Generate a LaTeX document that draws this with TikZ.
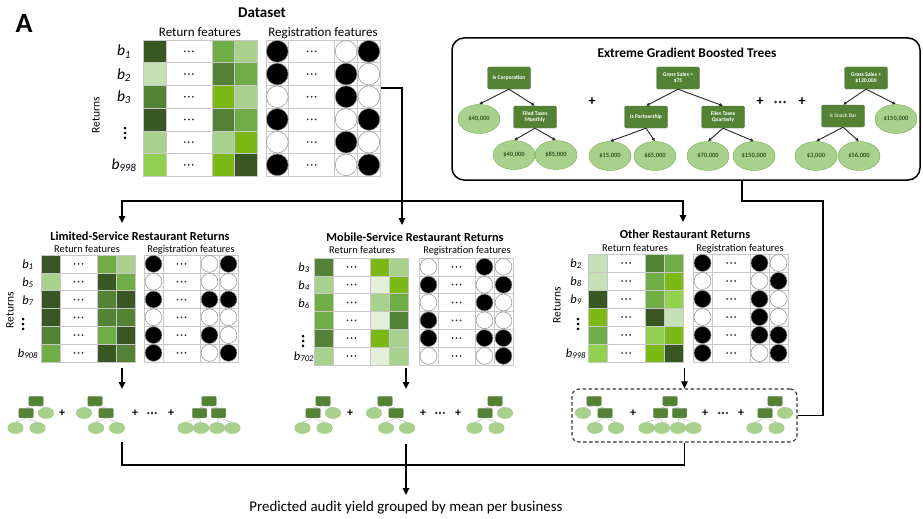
\documentclass[tikz,border=0pt]{standalone}
\usepackage{fontspec}
\setmainfont{Carlito}
\usetikzlibrary{arrows.meta,shapes.geometric}
\definecolor{G1}{RGB}{56,87,35}
\definecolor{G2}{RGB}{84,130,53}
\definecolor{G3}{RGB}{112,173,71}
\definecolor{G4}{RGB}{169,209,142}
\definecolor{G5}{RGB}{125,185,20}
\definecolor{G6}{RGB}{197,224,180}
\definecolor{G7}{RGB}{146,208,80}
\definecolor{G8}{RGB}{226,240,217}
\colorlet{K}{black}
\colorlet{W}{white}
\newcommand\fs[1]{\fontsize{#1}{#1}\selectfont}
\newcommand\mydotsH[4]{\foreach \k in {0,1,2}{\fill[black!80] ({#1-#3+#3*\k},{#2}) circle (#4pt);}}
\newcommand\mydotsV[2]{\foreach \k in {0,1,2}{\fill[black] ({#1},{#2-4.8+4.8*\k}) circle (1.5pt);}}
% #1 x0, #2 y0, #3 cell w, #4 cell h, #5 dots w, #6 gap, #7 colours, #8 circles
\newcommand\gtable[8]{%
  \pgfmathsetmacro\xA{#1}%
  \pgfmathsetmacro\xB{#1+#3}%
  \pgfmathsetmacro\xC{#1+#3+#5}%
  \pgfmathsetmacro\xD{#1+2*#3+#5}%
  \pgfmathsetmacro\xE{#1+3*#3+#5}%
  \pgfmathsetmacro\xF{#1+3*#3+#5+#6}%
  \pgfmathsetmacro\xG{\xF+#3}%
  \pgfmathsetmacro\xH{\xF+#3+#5}%
  \pgfmathsetmacro\xI{\xF+2*#3+#5}%
  \pgfmathsetmacro\xJ{\xF+3*#3+#5}%
  \pgfmathsetmacro\xdA{(\xB+\xC)/2}%
  \pgfmathsetmacro\xdB{(\xG+\xH)/2}%
  \pgfmathsetmacro\xcA{(\xF+\xG)/2}%
  \pgfmathsetmacro\xcB{(\xH+\xI)/2}%
  \pgfmathsetmacro\xcC{(\xI+\xJ)/2}%
  \pgfmathsetmacro\crad{min(#3,#4)/2-0.5}%
  \foreach \ca/\cb/\cc [count=\ri from 0] in {#7}{%
    \pgfmathsetmacro\yT{#2+\ri*#4}%
    \pgfmathsetmacro\yB{#2+\ri*#4+#4}%
    \pgfmathsetmacro\yM{#2+\ri*#4+#4/2}%
    \fill[\ca] (\xA,\yT) rectangle (\xB,\yB);
    \fill[\cb] (\xC,\yT) rectangle (\xD,\yB);
    \fill[\cc] (\xD,\yT) rectangle (\xE,\yB);
    \draw[cellline] (\xA,\yT) rectangle (\xB,\yB) (\xB,\yT) rectangle (\xC,\yB)
      (\xC,\yT) rectangle (\xD,\yB) (\xD,\yT) rectangle (\xE,\yB);
    \draw[cellline] (\xF,\yT) rectangle (\xG,\yB) (\xG,\yT) rectangle (\xH,\yB)
      (\xH,\yT) rectangle (\xI,\yB) (\xI,\yT) rectangle (\xJ,\yB);
    \mydotsH{\xdA}{\yM}{4}{1}
    \mydotsH{\xdB}{\yM}{4}{1}
  }
  \foreach \pa/\pb/\pc [count=\ri from 0] in {#8}{%
    \pgfmathsetmacro\yM{#2+\ri*#4+#4/2}%
    \filldraw[fill=\pa, draw=black!45, line width=0.5pt] (\xcA,\yM) circle (\crad pt);
    \filldraw[fill=\pb, draw=black!45, line width=0.5pt] (\xcB,\yM) circle (\crad pt);
    \filldraw[fill=\pc, draw=black!45, line width=0.5pt] (\xcC,\yM) circle (\crad pt);
  }
}
% mini trees
\newcommand\mtA[2]{%
  \node[mrect] (#2r) at (#1,401) {};
  \node[mrect] (#2a) at ({#1-10},413) {};
  \node[mell] (#2b) at ({#1+10},413) {};
  \node[mell] (#2c) at ({#1-20.5},428) {};
  \node[mell] (#2d) at ({#1+1.5},428) {};
  \draw[medge] (#2r.south) -- (#2a.north) (#2r.south) -- (#2b.north)
    (#2a.south) -- (#2c.north) (#2a.south) -- (#2d.north);
}
\newcommand\mtB[2]{%
  \node[mrect] (#2r) at (#1,401) {};
  \node[mell] (#2a) at ({#1-11},413) {};
  \node[mrect] (#2b) at ({#1+11},413) {};
  \node[mell] (#2c) at ({#1+1},428) {};
  \node[mell] (#2d) at ({#1+22},428) {};
  \draw[medge] (#2r.south) -- (#2a.north) (#2r.south) -- (#2b.north)
    (#2b.south) -- (#2c.north) (#2b.south) -- (#2d.north);
}
\newcommand\mtC[2]{%
  \node[mrect] (#2r) at (#1,401) {};
  \node[mrect] (#2a) at ({#1-9.5},413) {};
  \node[mrect] (#2b) at ({#1+9.5},413) {};
  \node[mell] (#2c) at ({#1-23.5},428) {};
  \node[mell] (#2d) at ({#1-8},428) {};
  \node[mell] (#2e) at ({#1+8},428) {};
  \node[mell] (#2f) at ({#1+23.5},428) {};
  \draw[medge] (#2r.south) -- (#2a.north) (#2r.south) -- (#2b.north)
    (#2a.south) -- (#2c.north) (#2a.south) -- (#2d.north)
    (#2b.south) -- (#2e.north) (#2b.south) -- (#2f.north);
}
\newcommand\blab[5]{\node[font=\itshape\fs{#4}, anchor=base] (#5) at #1 {b\textsubscript{#2}#3};}
\begin{document}
\begin{tikzpicture}[x=1pt,y=-1pt,
  cellline/.style={draw=black!22, line width=0.6pt},
  conn/.style={line width=1.6pt, black},
  arr/.style={conn, -{Triangle[length=7pt,width=6.5pt]}},
  xrect/.style={rectangle, rounded corners=1.5pt, fill=G2, draw=G1!80, line width=0.4pt,
    minimum width=43pt, minimum height=22pt, inner sep=1pt, text=white,
    font=\bfseries\fs{5.6}, align=center},
  xell/.style={ellipse, fill=G4, draw=G3, line width=0.4pt, minimum width=42pt,
    minimum height=29pt, inner sep=0pt, text=G1, font=\bfseries\fs{6.5}},
  xedge/.style={line width=0.9pt, black!85, -{Latex[length=3.5pt,width=3.5pt]}},
  mrect/.style={rectangle, rounded corners=1pt, fill=G2, draw=G1!70, line width=0.3pt,
    minimum width=14.5pt, minimum height=9.5pt, inner sep=0pt},
  mell/.style={ellipse, fill=G4, draw=G3!80, line width=0.3pt, minimum width=15.5pt,
    minimum height=11pt, inner sep=0pt},
  medge/.style={draw=black!30, line width=0.4pt},
  plus/.style={font=\bfseries\fs{14}, inner sep=0pt},
  mplus/.style={font=\bfseries\fs{12}, inner sep=0pt},
  ttl/.style={font=\bfseries\fs{12.3}, anchor=base, inner sep=0pt},
  sub/.style={font=\fs{10.4}, anchor=base, inner sep=0pt},
  rlab/.style={font=\fs{11.5}, rotate=90, inner sep=0pt}
]
\useasboundingbox (0,0) rectangle (923,519);
\fill[white] (0,0) rectangle (923,519);

% ---------- Dataset ----------
\node[font=\bfseries\fs{28}, anchor=base, inner sep=0pt] (lblA) at (24,33) {A};
\node[font=\bfseries\fs{15}, anchor=base, inner sep=0pt] (dstitle) at (262,18) {Dataset};
\node[font=\fs{13}, anchor=base, inner sep=0pt] (dsret) at (200,37) {Return features};
\node[font=\fs{13}, anchor=base, inner sep=0pt] (dsreg) at (323,37) {Registration features};
\gtable{143}{40}{22.8}{22.7}{46}{8.5}
  {G1/G3/G4, G6/G2/G3, G2/G5/G4, G1/G2/G3, G4/G4/G5, G7/G5/G1}
  {K/W/K, K/K/W, W/K/W, K/W/K, W/K/W, K/W/K}
\blab{(124,56)}{1}{}{15.5}{dsb1}
\blab{(124,79)}{2}{}{15.5}{dsb2}
\blab{(124,101.5)}{3}{}{15.5}{dsb3}
\blab{(124,169.5)}{998}{}{15.5}{dsb6}
\mydotsV{125}{133}
\node[rlab] (dsrows) at (96,115) {Returns};

% ---------- Limited-service ----------
\node[ttl] (limtitle) at (140,240) {Limited-Service Restaurant Returns};
\node[sub] (limret) at (87,252) {Return features};
\node[sub] (limreg) at (191,252) {Registration features};
\gtable{41}{255}{19}{17.8}{37}{9}
  {G1/G3/G4, G4/G1/G3, G1/G2/G1, G1/G2/G2, G2/G3/G1, G3/G1/G2}
  {K/W/K, W/W/W, K/K/K, W/W/W, K/K/W, K/W/K}
\blab{(28,268)}{1}{}{12.5}{lb1}
\blab{(28,286)}{5}{}{12.5}{lb5}
\blab{(28,304)}{7}{}{12.5}{lb7}
\blab{(28,357)}{908}{}{12.5}{lb6}
\mydotsV{23}{324}
\node[rlab] (limrows) at (10,310) {Returns};

% ---------- Mobile-service ----------
\node[ttl] (mobtitle) at (415,241) {Mobile-Service Restaurant Returns};
\node[sub] (mobret) at (362,253) {Return features};
\node[sub] (mobreg) at (467,253) {Registration features};
\gtable{314}{258}{19}{17.8}{37}{11}
  {G2/G5/G4, G4/G8/G5, G3/G4/G3, G3/G8/G2, G2/G5/G4, G4/G8/G4}
  {W/K/W, K/W/K, W/K/W, K/W/W, K/K/K, W/W/K}
\blab{(304,271)}{3}{}{12.5}{mb3}
\blab{(304,289)}{4}{}{12.5}{mb4}
\blab{(304,307)}{6}{}{12.5}{mb6}
\blab{(304,360)}{702}{}{12.5}{mb7}
\mydotsV{303}{341}

% ---------- Other ----------
\node[ttl] (othtitle) at (685,238) {Other Restaurant Returns};
\node[sub] (othret) at (635,251) {Return features};
\node[sub] (othreg) at (740,251) {Registration features};
\gtable{588}{254}{19}{18}{38}{10}
  {G6/G2/G3, G6/G3/G5, G1/G3/G7, G5/G1/G6, G3/G7/G5, G7/G5/G1}
  {K/K/W, W/W/K, K/K/W, W/K/W, K/K/K, K/W/K}
\blab{(576,267)}{2}{}{12.5}{ob2}
\blab{(576,285)}{8}{}{12.5}{ob8}
\blab{(576,303)}{9}{}{12.5}{ob9}
\blab{(576,357)}{998}{}{12.5}{ob6}
\mydotsV{578}{324}
\node[rlab] (othrows) at (557,305) {Returns};

% ---------- XGBoost box ----------
\node[draw, line width=1.5pt, rounded corners=12pt, minimum width=468pt,
  minimum height=142pt, inner sep=0pt] (xgb) at (686,109) {};
\node[font=\bfseries\fs{13.4}, anchor=base, inner sep=0pt] (xgbtitle) at (687,57) {Extreme Gradient Boosted Trees};
% tree 1
\node[xrect] (c1) at (509,78) {Is Corporation};
\node[xell] (c1l) at (479,119) {\$40,000};
\node[xrect] (c1r) at (535,117) {Filed Taxes\\Monthly};
\node[xell] (c1rl) at (514,155) {\$40,000};
\node[xell] (c1rr) at (556,155) {\$85,000};
\draw[xedge] (c1.south) -- (c1l.north);
\draw[xedge] (c1.south) -- (c1r.north);
\draw[xedge] (c1r.south) -- (c1rl.north);
\draw[xedge] (c1r.south) -- (c1rr.north);
\node[plus] (xp1) at (592,102) {+};
% tree 2
\node[xrect] (c2) at (678,78) {Gross Sales <\\\$75};
\node[xrect] (c2l) at (646,117) {Is Partnership};
\node[xrect] (c2r) at (723,117) {Files Taxes\\Quarterly};
\node[xell] (c2a) at (610,156) {\$15,000};
\node[xell] (c2b) at (655,156) {\$65,000};
\node[xell] (c2c) at (708,156) {\$70,000};
\node[xell] (c2d) at (754,156) {\$150,000};
\draw[xedge] (c2.south) -- (c2l.north);
\draw[xedge] (c2.south) -- (c2r.north);
\draw[xedge] (c2l.south) -- (c2a.north);
\draw[xedge] (c2l.south) -- (c2b.north);
\draw[xedge] (c2r.south) -- (c2c.north);
\draw[xedge] (c2r.south) -- (c2d.north);
\node[plus] (xp2) at (760,102) {+};
\mydotsH{780}{102}{4.5}{1.5}
\node[plus] (xp3) at (802,102) {+};
% tree 3
\node[xrect] (c3) at (866,78) {Gross Sales <\\\$120,000};
\node[xrect, font=\fs{5.6}] (c3l) at (843,116) {Is Snack Bar};
\node[xell] (c3r) at (896,119) {\$150,000};
\node[xell] (c3a) at (816,156) {\$3,000};
\node[xell] (c3b) at (859,156) {\$56,000};
\draw[xedge] (c3.south) -- (c3l.north);
\draw[xedge] (c3.south) -- (c3r.north);
\draw[xedge] (c3l.south) -- (c3a.north);
\draw[xedge] (c3l.south) -- (c3b.north);

% ---------- mini tree rows ----------
\mtA{36}{ta}
\node[mplus] (lp1) at (62,413) {+};
\mtB{95}{tb}
\node[mplus] (lp2) at (135,413) {+};
\mydotsH{152}{413}{3.8}{1.3}
\node[mplus] (lp3) at (171,413) {+};
\mtC{209}{tc}

\mtA{323}{td}
\node[mplus] (mp1) at (350,413) {+};
\mtB{385}{te}
\node[mplus] (mp2) at (423,413) {+};
\mydotsH{440}{413}{3.8}{1.3}
\node[mplus] (mp3) at (458,413) {+};
\mtA{495}{tf}

\node[draw=black!80, dash pattern=on 3.5pt off 2.5pt, line width=1.1pt, rounded corners=7pt,
  minimum width=225pt, minimum height=53pt, inner sep=0pt] (dbox) at (684.5,415.5) {};
\mtB{594}{tg}
\node[mplus] (op1) at (633,413) {+};
\mtC{670}{th}
\node[mplus] (op2) at (705,413) {+};
\mydotsH{723}{413}{3.8}{1.3}
\node[mplus] (op3) at (741,413) {+};
\mtA{775}{ti}

% ---------- connectors ----------
\coordinate (dsout) at (381,88);
\coordinate (split) at (402,201);
\coordinate (limin) at (122,223);
\coordinate (mobin) at (402,225);
\coordinate (othin) at (683,222);
\draw[conn] (dsout) -| (split);
\draw[arr] (split) -- (mobin);
\draw[arr] (split) -| (limin);
\draw[arr] (split) -| (othin);

\coordinate (xgbout) at (742,180);
\coordinate (jog) at (823,201);
\draw[conn] (xgbout) |- (jog) |- (dbox.east);

\coordinate (limout) at (122,368);
\coordinate (limtr) at (122,389);
\coordinate (mobout) at (406,368);
\coordinate (mobtr) at (406,389);
\coordinate (othout) at (684.5,368);
\draw[arr] (limout) -- (limtr);
\draw[arr] (mobout) -- (mobtr);
\draw[arr] (othout) -- (dbox.north);

\coordinate (limsum) at (122,442);
\coordinate (mobsum) at (406,444);
\coordinate (join) at (406,465);
\coordinate (predin) at (406,495);
\draw[conn] (limsum) |- (join) -| (dbox.south);
\draw[arr] (mobsum) -- (predin);
\node[font=\fs{14.9}, anchor=base, inner sep=0pt] (pred) at (406,511) {Predicted audit yield grouped by mean per business};
\end{tikzpicture}
\end{document}
